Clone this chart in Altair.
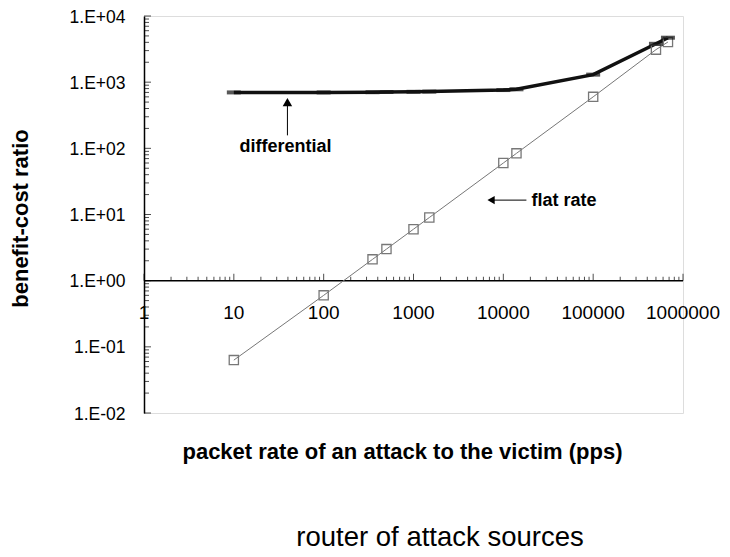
import altair as alt
import pandas as pd

# ---- data ----
packet_rate = [10, 100, 350, 500, 1000, 1500, 10000, 14000, 100000, 500000, 680000]
flat_rate = [0.063, 0.6, 2.1, 3.0, 6.0, 9.0, 60, 84, 600, 3100, 4050]
differential = [700, 700, 705, 710, 715, 720, 760, 780, 1300, 3800, 4700]

x_ticks = [1, 10, 100, 1000, 10000, 100000, 1000000]
x_tick_labels = ["1", "10", "100", "1000", "10000", "100000", "1000000"]
y_ticks = [0.01, 0.1, 1, 10, 100, 1000, 10000]
y_tick_labels = ["1.E-02", "1.E-01", "1.E+00", "1.E+01", "1.E+02", "1.E+03", "1.E+04"]

x_title = "packet rate of an attack to the victim (pps)"
y_title = "benefit-cost ratio"
caption = "router of attack sources"

FONT = "Liberation Sans"
W, H = 539, 397

df = pd.DataFrame({"rate": packet_rate, "flat": flat_rate, "diff": differential})
xt = pd.DataFrame({"v": x_ticks, "label": x_tick_labels})
x_minor = pd.DataFrame({"v": [k * 10 ** e for e in range(0, 6) for k in range(2, 10)]})
x_major = pd.DataFrame({"v": x_ticks})
y_minor = pd.DataFrame({"v": [k * 10.0 ** e for e in range(-2, 4) for k in range(2, 10)]})
y_major = pd.DataFrame({"v": y_ticks})

xs = alt.Scale(type="log", domain=[1, 1e6], nice=False)
ys = alt.Scale(type="log", domain=[0.01, 1e4], nice=False)

label_expr = "[" + ",".join(f"'{l}'" for l in y_tick_labels) + "][round(log(datum.value)/LN10)+2]"

y_axis = alt.Axis(
    values=y_ticks, labelExpr=label_expr, ticks=False, tickSize=0, grid=False,
    labelFontSize=17.5, labelFont=FONT, labelColor="black", labelPadding=19, labelOffset=1,
    domainColor="black", domainWidth=1.5,
    title=y_title, titleFont=FONT, titleFontSize=22, titleFontWeight="bold",
    titleX=-124, titleY=202, titleAngle=270, titleAlign="center", titleBaseline="middle",
    titleColor="black",
)
x_axis = alt.Axis(
    labels=False, ticks=False, tickSize=0, domain=False, grid=False,
    title=x_title, titleFont=FONT, titleFontSize=22, titleFontWeight="bold",
    titleX=258, titleY=38, titleAlign="center", titleBaseline="middle", titleColor="black",
)

base = alt.Chart(df)

diff_line = base.mark_line(color="#111", strokeWidth=3.5).encode(
    x=alt.X("rate:Q", scale=xs, axis=x_axis),
    y=alt.Y("diff:Q", scale=ys, axis=y_axis),
)
diff_pts = base.mark_tick(orient="horizontal", size=14, thickness=4, color="#111").encode(
    x=alt.X("rate:Q"), y=alt.Y("diff:Q"),
)
flat_line = base.mark_line(color="#777", strokeWidth=1).encode(
    x=alt.X("rate:Q"), y=alt.Y("flat:Q"),
)
flat_pts = base.mark_point(shape="square", size=85, filled=False, color="#777", strokeWidth=1.3, opacity=1).encode(
    x=alt.X("rate:Q"), y=alt.Y("flat:Q"),
)

# x axis drawn at y = 1
one = pd.DataFrame({"a": [1]})
x_line = alt.Chart(one).mark_rule(color="black", strokeWidth=1.5).encode(
    x=alt.datum(1), x2=alt.datum(1e6), y=alt.datum(1)
)
x_minor_ticks = alt.Chart(x_minor).mark_tick(orient="vertical", size=4, thickness=1, color="black", yOffset=-2).encode(
    x=alt.X("v:Q"), y=alt.datum(1)
)
x_major_ticks = alt.Chart(x_major).mark_tick(orient="vertical", size=7, thickness=1, color="black", yOffset=-3.5).encode(
    x=alt.X("v:Q"), y=alt.datum(1)
)
x_labels = alt.Chart(xt).mark_text(dy=32, fontSize=19, font=FONT, color="black", baseline="middle").encode(
    x=alt.X("v:Q"), y=alt.datum(1), text="label:N"
)
y_minor_ticks = alt.Chart(y_minor).mark_tick(orient="horizontal", size=5, thickness=1, color="black", xOffset=2.5).encode(
    y=alt.Y("v:Q"), x=alt.datum(1)
)
y_major_ticks = alt.Chart(y_major).mark_tick(orient="horizontal", size=7, thickness=1, color="black", xOffset=3.5).encode(
    y=alt.Y("v:Q"), x=alt.datum(1)
)

# annotations
diff_arrow = alt.Chart(one).mark_rule(color="black", strokeWidth=1).encode(
    x=alt.datum(39.5), y=alt.datum(157), y2=alt.datum(520)
)
diff_head = alt.Chart(one).mark_point(shape="triangle-up", size=90, filled=True, color="black", opacity=1).encode(
    x=alt.datum(39.5), y=alt.datum(500)
)
diff_text = alt.Chart(pd.DataFrame({"t": ["differential"]})).mark_text(
    fontSize=18, fontWeight="bold", font=FONT, color="black", baseline="middle", align="center"
).encode(x=alt.datum(37.5), y=alt.datum(103), text="t:N")

flat_arrow = alt.Chart(one).mark_rule(color="black", strokeWidth=1).encode(
    x=alt.datum(7000), x2=alt.datum(18070), y=alt.datum(16.5)
)
flat_head = alt.Chart(one).mark_point(shape="triangle-left", size=70, filled=True, color="black", opacity=1).encode(
    x=alt.datum(7300), y=alt.datum(16.5)
)
flat_text = alt.Chart(pd.DataFrame({"t": ["flat rate"]})).mark_text(
    fontSize=18, fontWeight="bold", font=FONT, color="black", baseline="middle", align="left"
).encode(x=alt.datum(20550), y=alt.datum(15.8), text="t:N")

cap = alt.Chart(pd.DataFrame({"t": [caption]})).mark_text(
    fontSize=27.5, font=FONT, color="black", baseline="middle", align="center"
).encode(x=alt.value(296), y=alt.value(522), text="t:N")

chart = alt.layer(
    diff_line, x_line, x_minor_ticks, x_major_ticks, x_labels, y_minor_ticks, y_major_ticks,
    flat_line, flat_pts, diff_pts,
    diff_arrow, diff_head, diff_text, flat_arrow, flat_head, flat_text, cap,
).properties(
    width=W, height=H,
    padding={"left": 136, "top": 8, "right": 39, "bottom": 138},
    autosize=alt.AutoSizeParams(type="none"),
).configure_view(
    stroke="#444", strokeWidth=1.2
).configure(
    font=FONT
)

chart.save("out.html", embed_options={"renderer": "svg", "actions": False})
